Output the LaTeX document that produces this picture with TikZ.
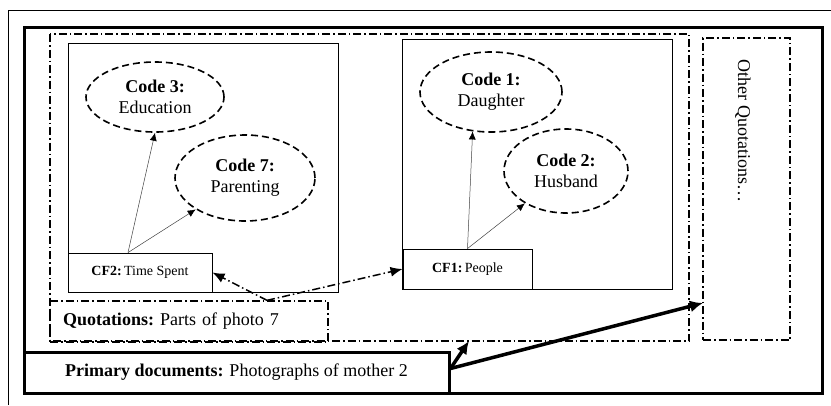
\documentclass[tikz,border=0pt]{standalone}
\usepackage{fontspec}
\setmainfont{Liberation Serif}
\usetikzlibrary{shapes.geometric,arrows.meta}
\newcommand*{\xMin}{0}
\newcommand*{\xMax}{831}
\newcommand*{\yMin}{-405}
\newcommand*{\yMax}{0}

\begin{document}
\begin{tikzpicture}[x=1pt,y=1pt,
	codeell/.style={ellipse,draw,line width=1.6pt,dash pattern=on 7pt off 4pt,inner sep=0pt,align=center,font=\fontsize{18}{21}\selectfont},
	cfbox/.style={rectangle,draw,line width=.9pt,inner sep=0pt,font=\fontsize{14}{16}\selectfont},
	dashdot/.style={line width=1.3pt,dash pattern=on 8pt off 3pt on 1.5pt off 3pt},
	thinarr/.style={line width=.5pt,black!75,-{Latex[length=8pt,width=7pt,black]}},
	dasharr/.style={dashdot,line width=1.5pt,-{Latex[length=12pt,width=10pt]}},
	thickarr/.style={line width=3.5pt,-{Latex[length=13pt,width=12pt]}}]
	\useasboundingbox (\xMin,\yMin) rectangle (\xMax,\yMax);
	
	% frames
	\draw[line width=.8pt] (8,\yMin) -- (8,-10) -- (\xMax,-10);
	\draw[line width=3pt] (24,-27) rectangle (822,-393);
	\draw[dashdot] (50,-34) rectangle (689,-341);
	\draw[line width=.8pt] (68,-43) rectangle (338,-292);
	\draw[line width=.8pt] (402,-39) rectangle (672,-289);
	
	% codes
	\node[codeell,minimum width=138pt,minimum height=70pt] (code3) at (155,-97) {\textbf{Code 3:}\\Education};
	\node[codeell,minimum width=140pt,minimum height=86pt] (code7) at (245,-178) {\textbf{Code 7:}\\Parenting};
	\node[codeell,minimum width=142pt,minimum height=80pt] (code1) at (491,-92) {\textbf{Code 1:}\\Daughter};
	\node[codeell,minimum width=124pt,minimum height=84pt] (code2) at (566,-171) {\textbf{Code 2:}\\Husband};
	
	\node[cfbox,fill=white,minimum width=144pt,minimum height=39pt] (cf2) at (140,-272.5) {\textbf{CF2:}\,Time Spent};
	\node[cfbox,fill=white,minimum width=129pt,minimum height=40pt] (cf1) at (467.5,-269) {\textbf{CF1:}\,People};
	
	\node[dashdot,draw,minimum height=41pt,text width=252pt,inner xsep=13pt,align=left,font=\fontsize{18}{21}\selectfont] (quot) at (189,-321.5) {\textbf{Quotations:}~Parts of photo 7};
	\node[draw,fill=white,line width=3pt,minimum width=425pt,minimum height=41pt,font=\fontsize{18}{21}\selectfont] (prim) at (236.5,-372.5) {\textbf{Primary documents:} Photographs of mother 2};
	\node[dashdot,draw,minimum width=87pt,minimum height=302pt] (other) at (746.5,-189) {};
	\node[rotate=-90,font=\fontsize{18}{21}\selectfont] (otherlbl) at (743,-131) {Other Quotations\ldots};
	
	% links
	\coordinate (cf2top) at ([xshift=-12pt]cf2.north);
	\draw[thinarr] (cf2top) -- (code3.south);
	\draw[thinarr] (cf2top) -- (code7);
	\draw[thinarr] (cf1.north) -- (code1.245);
	\draw[thinarr] (cf1.north) -- (code2);
	
	\coordinate (meet) at ([xshift=78pt]quot.north);
	\draw[dasharr] (meet) -- (cf2.east);
	\draw[dasharr] (meet) -- (cf1.west);
	
	\coordinate (primout) at ([yshift=4pt]prim.east);
	\coordinate (qbot) at (469,-341);
	\coordinate (othin) at (703,-303);
	\draw[thickarr] (primout) -- (qbot);
	\draw[thickarr] (primout) -- (othin);
\end{tikzpicture}
\end{document}
